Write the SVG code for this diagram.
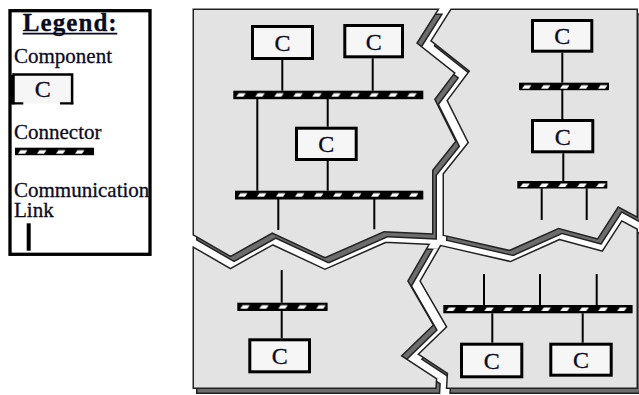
<svg xmlns="http://www.w3.org/2000/svg" width="639" height="395" viewBox="0 0 639 395">
<style>
.mk{fill:#fff;stroke:#000;stroke-width:9;stroke-linejoin:miter;stroke-miterlimit:10}
.rg{fill:#e3e3e3;stroke:#222;stroke-width:12;stroke-linejoin:miter;stroke-miterlimit:10}
.sh{fill:#6d6d6d;stroke:#222;stroke-width:12;stroke-linejoin:miter;stroke-miterlimit:10}
.comp rect{fill:#f6f6f6;stroke:#000;stroke-width:3}
.lbl{font-family:"Liberation Serif","Times New Roman",serif;fill:#0b0b1e;stroke:#0b0b1e;stroke-width:0.3}
.c{font-size:24px;text-anchor:middle}
.t{font-size:21px}
.bar{fill:url(#dash)}
#links line{stroke:#000;stroke-width:2}
</style>
<defs>
<polygon id="pA" points="188,4 448,4 424,42 462,72 441,100 462,142 438,172 438,239.5 385,237 325,263.5 272.5,239 230.5,262.5 188,238"/>
<polygon id="pB" points="448,4 642.5,4 642.5,226 620,214 600,245 559,234 510,256 438,239.5 438,172 462,142 441,100 462,72 424,42"/>
<polygon id="pC" points="188,238 230.5,262.5 272.5,239 325,263.5 385,237 438,239.5 414,281 440,326 410,355 442,376 441,393.5 188,393.5"/>
<polygon id="pD" points="438,239.5 510,256 559,234 600,245 620,214 642.5,226 642.5,393.5 441,393.5 442,376 410,355 440,326 414,281"/>
<mask id="mA" maskUnits="userSpaceOnUse" x="-20" y="-20" width="700" height="440"><use href="#pA" class="mk"/></mask>
<mask id="mB" maskUnits="userSpaceOnUse" x="-20" y="-20" width="700" height="440"><use href="#pB" class="mk"/></mask>
<mask id="mC" maskUnits="userSpaceOnUse" x="-20" y="-20" width="700" height="440"><use href="#pC" class="mk"/></mask>
<mask id="mD" maskUnits="userSpaceOnUse" x="-20" y="-20" width="700" height="440"><use href="#pD" class="mk"/></mask>
<pattern id="dash" patternUnits="userSpaceOnUse" width="19" height="20">
<rect width="19" height="20" fill="#000"/>
<polygon points="3,5.9 10,5.9 12.5,2.6 5.5,2.6" fill="#fff"/>
</pattern>
</defs>

<g id="plates">
<g id="shadows" transform="translate(3.5,5)">
<g mask="url(#mA)"><use href="#pA" class="sh"/></g>
<g mask="url(#mB)"><use href="#pB" class="sh"/></g>
<g mask="url(#mC)"><use href="#pC" class="sh"/></g>
<g mask="url(#mD)"><use href="#pD" class="sh"/></g>
</g>
<g id="plateA" mask="url(#mA)"><use href="#pA" class="rg"/></g>
<g id="plateB" mask="url(#mB)"><use href="#pB" class="rg"/></g>
<g id="plateC" mask="url(#mC)"><use href="#pC" class="rg"/></g>
<g id="plateD" mask="url(#mD)"><use href="#pD" class="rg"/></g>
</g>

<g id="legend">
<rect x="10" y="10.7" width="140" height="243.6" fill="#fff" stroke="#000" stroke-width="3.3"/>
<text class="lbl" x="22.7" y="30.7" font-size="25" font-weight="bold" textLength="94" lengthAdjust="spacing">Legend:</text>
<line x1="22.7" y1="33.6" x2="117.3" y2="33.6" stroke="#0b0b1e" stroke-width="1.7"/>
<text class="lbl t" x="14" y="63.3">Component</text>
<g id="legend-comp">
<rect x="13.5" y="74.5" width="58.6" height="29" fill="#f6f6f6"/>
<path d="M13.5,104.3 V74.5 H72.1 V104.3" fill="none" stroke="#000" stroke-width="2.5"/>
<line x1="12.3" y1="75" x2="12.3" y2="104.3" stroke="#000" stroke-width="3"/>
<path d="M12.3,103.3 H23.3 M60,103.3 H73.3" stroke="#000" stroke-width="2.2"/>
<text class="lbl c" x="42.8" y="97">C</text>
</g>
<text class="lbl t" x="14" y="139.3">Connector</text>
<g id="legend-bar" transform="translate(15,147.7)"><rect class="bar" width="79" height="7.5"/></g>
<text class="lbl t" x="14" y="196.7">Communication</text>
<text class="lbl t" x="14" y="216.5">Link</text>
<line x1="28.7" y1="223.3" x2="28.7" y2="250.7" stroke="#000" stroke-width="4"/>
</g>

<g id="links">
<line x1="282.3" y1="60" x2="282.3" y2="90.7"/>
<line x1="372.7" y1="58.3" x2="372.7" y2="90.7"/>
<line x1="257.3" y1="99" x2="257.3" y2="190.7"/>
<line x1="327.7" y1="99" x2="327.7" y2="126.7"/>
<line x1="327.7" y1="161" x2="327.7" y2="190.7"/>
<line x1="278.3" y1="199" x2="278.3" y2="230"/>
<line x1="374.3" y1="199" x2="374.3" y2="229.3"/>
<line x1="562.3" y1="52.7" x2="562.3" y2="82.7"/>
<line x1="562.3" y1="90" x2="562.3" y2="119"/>
<line x1="563.3" y1="153.3" x2="563.3" y2="181"/>
<line x1="541.7" y1="188.3" x2="541.7" y2="220"/>
<line x1="586.7" y1="188.3" x2="586.7" y2="220"/>
<line x1="281.7" y1="270" x2="281.7" y2="302.7"/>
<line x1="281.7" y1="311" x2="281.7" y2="338.3"/>
<line x1="484" y1="274" x2="484" y2="305"/>
<line x1="540" y1="274" x2="540" y2="305"/>
<line x1="596.7" y1="274" x2="596.7" y2="305"/>
<line x1="492.3" y1="313.3" x2="492.3" y2="342.7"/>
<line x1="582.7" y1="313.3" x2="582.7" y2="342.7"/>
</g>

<g id="bar1" transform="translate(233.3,90.7)"><rect class="bar" width="190" height="8.5"/></g>
<g id="bar2" transform="translate(235,190.7)"><rect class="bar" width="188.3" height="8.8"/></g>
<g id="bar3" transform="translate(519,82.7)"><rect class="bar" width="90" height="7.5"/></g>
<g id="bar4" transform="translate(517.3,181)"><rect class="bar" width="90" height="7.5"/></g>
<g id="bar5" transform="translate(237.3,302.7)"><rect class="bar" width="90.3" height="8.3"/></g>
<g id="bar6" transform="translate(443.3,305)"><rect class="bar" width="189.3" height="8.3"/></g>

<g id="c1" class="comp"><rect x="252.5" y="26.5" width="60" height="32"/><text class="lbl c" x="282.5" y="50.5">C</text></g>
<g id="c2" class="comp"><rect x="344.8" y="25.5" width="57.7" height="31.3"/><text class="lbl c" x="373.7" y="49.5">C</text></g>
<g id="c3" class="comp"><rect x="296.5" y="128.2" width="59.7" height="31.3"/><text class="lbl c" x="326.3" y="152">C</text></g>
<g id="c4" class="comp"><rect x="532.5" y="20.5" width="59.3" height="30.7"/><text class="lbl c" x="562.2" y="44">C</text></g>
<g id="c5" class="comp"><rect x="532.5" y="120.5" width="60.3" height="31.3"/><text class="lbl c" x="562.7" y="144.5">C</text></g>
<g id="c6" class="comp"><rect x="249.8" y="339.8" width="59.7" height="32"/><text class="lbl c" x="279.7" y="364">C</text></g>
<g id="c7" class="comp"><rect x="461.5" y="344.2" width="60.3" height="32.6"/><text class="lbl c" x="491.7" y="369">C</text></g>
<g id="c8" class="comp"><rect x="550.8" y="344.2" width="60.4" height="31"/><text class="lbl c" x="581" y="368">C</text></g>
</svg>
